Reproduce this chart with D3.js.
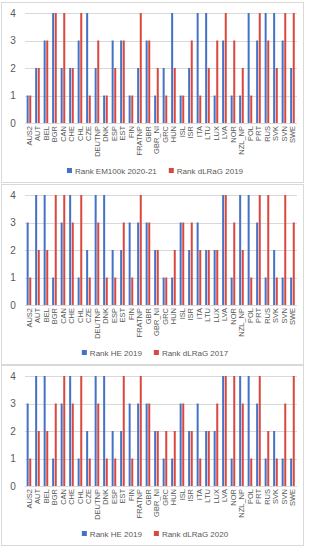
<!DOCTYPE html>
<html>
<head>
<meta charset="utf-8">
<script src="https://cdn.jsdelivr.net/npm/d3@7"></script>
<style>
  body { margin: 0; background: #fff; }
  text { font-family: "Liberation Sans", Arial, sans-serif; fill: #595959; }
</style>
</head>
<body>
<div id="chart"></div>
<script>
var countries = ["AUS2","AUT","BEL","BGR","CAN","CHE","CHL","CZE","DEUTNP","DNK","ESP","EST","FIN","FRATNP","GBR","GBR_NI","GRC","HUN","ISL","ISR","ITA","LTU","LUX","LVA","NOR","NZL_NP","POL","PRT","RUS","SVK","SVN","SWE"];

var rankEM100k = [1,2,3,4,2,2,3,4,2,1,3,3,1,2,3,1,2,4,1,2,4,4,1,3,1,1,4,3,4,4,3,2];
var rankDLRaG2019 = [1,2,3,4,4,2,4,1,3,1,2,3,1,4,3,2,1,2,1,3,1,2,3,4,3,2,1,4,3,2,4,4];

var rankHE2019 = [3,4,4,1,3,4,1,2,4,4,2,2,3,3,3,2,1,1,3,2,3,2,2,4,1,4,4,3,1,2,1,1];
var rankDLRaG2017 = [1,2,2,4,4,3,4,1,3,1,1,3,1,4,3,2,1,2,3,3,2,2,2,4,3,2,1,4,4,1,4,3];
var rankDLRaG2020 = [1,2,2,3,4,3,4,1,3,1,1,4,1,4,3,2,2,2,3,2,1,2,3,4,4,3,1,4,2,1,3,4];

var yTicks = [0,1,2,3,4];

var width = 309, height = 550;
var blue = "#4472c4", red = "#d9473f";

var svg = d3.select("#chart").append("svg")
    .attr("width", width)
    .attr("height", height);

function drawPanel(top, blueVals, redVals, blueName, redName) {
    var g = svg.append("g").attr("transform", "translate(0," + top + ")");

    g.append("rect")
        .attr("x", 1.5).attr("y", 0.5)
        .attr("width", 302).attr("height", 180)
        .attr("fill", "#fff")
        .attr("stroke", "#d9d9d9");

    var x = d3.scaleBand().domain(countries).range([25, 297]);
    var y = d3.scaleLinear().domain([0, 4]).range([121, 11]);

    g.selectAll(".grid")
        .data(yTicks)
        .enter().append("line")
        .attr("x1", 25).attr("x2", 297)
        .attr("y1", function(d) { return Math.round(y(d)) + 0.5; })
        .attr("y2", function(d) { return Math.round(y(d)) + 0.5; })
        .attr("stroke", "#d9d9d9");

    g.selectAll(".ytick")
        .data(yTicks)
        .enter().append("text")
        .attr("x", 13)
        .attr("y", function(d) { return y(d); })
        .attr("dy", "0.35em")
        .attr("text-anchor", "middle")
        .style("font-size", "10px")
        .text(function(d) { return d; });

    var bars = g.selectAll(".pair")
        .data(countries)
        .enter().append("g")
        .attr("transform", function(d) { return "translate(" + (x(d) + x.bandwidth() / 2) + ",0)"; });

    bars.append("rect")
        .attr("x", -2.6)
        .attr("width", 2)
        .attr("y", function(d, i) { return y(blueVals[i]); })
        .attr("height", function(d, i) { return y(0) - y(blueVals[i]); })
        .attr("fill", blue);

    bars.append("rect")
        .attr("x", 0)
        .attr("width", 2)
        .attr("y", function(d, i) { return y(redVals[i]); })
        .attr("height", function(d, i) { return y(0) - y(redVals[i]); })
        .attr("fill", red);

    bars.append("text")
        .attr("transform", "translate(2.5," + (y(0) + 3) + ") rotate(-90)")
        .attr("text-anchor", "end")
        .style("font-size", "7.5px")
        .text(function(d) { return d; });

    // legend, centred under the plot
    var legend = g.append("g").attr("transform", "translate(0,169)");
    var items = [{name: blueName, color: blue}, {name: redName, color: red}];

    var li = legend.selectAll("g")
        .data(items)
        .enter().append("g");

    li.append("rect")
        .attr("x", 0).attr("y", -3)
        .attr("width", 5).attr("height", 5)
        .attr("fill", function(d) { return d.color; });

    li.append("text")
        .attr("x", 8)
        .attr("dy", "0.32em")
        .style("font-size", "8px")
        .text(function(d) { return d.name; });

    var widths = [];
    li.selectAll("text").each(function() { widths.push(8 + this.getComputedTextLength()); });
    var gap = 12;
    var total = widths[0] + gap + widths[1];
    var start = 155 - total / 2;
    li.attr("transform", function(d, i) {
        return "translate(" + (i === 0 ? start : start + widths[0] + gap) + ",0)";
    });
}

drawPanel(2, rankEM100k, rankDLRaG2019, "Rank EM100k 2020-21", "Rank dLRaG 2019");
drawPanel(184, rankHE2019, rankDLRaG2017, "Rank HE 2019", "Rank dLRaG 2017");
drawPanel(365, rankHE2019, rankDLRaG2020, "Rank HE 2019", "Rank dLRaG 2020");
</script>
</body>
</html>
